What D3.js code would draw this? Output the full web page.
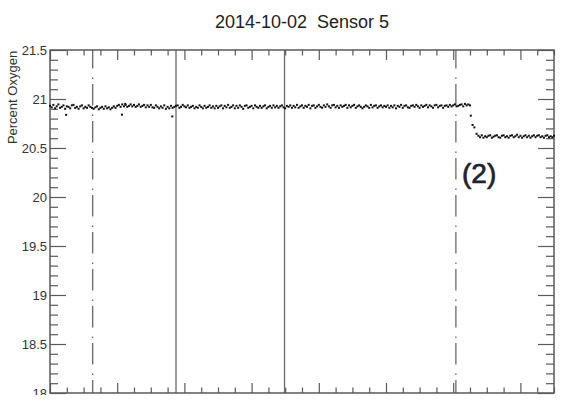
<!DOCTYPE html>
<html>
<head>
<meta charset="utf-8">
<script src="https://cdn.jsdelivr.net/npm/d3@7"></script>
<style>
  body { margin: 0; background: #fff; }
  text { font-family: "Liberation Sans", Arial, sans-serif; }
</style>
</head>
<body>
<div id="chart"></div>
<script>
// ==== data (time in hours of the day, percent oxygen) ====

const chartTitle = "2014-10-02  Sensor 5";
const yLabel = "Percent Oxygen";

const yMajorTicks = [18, 18.5, 19, 19.5, 20, 20.5, 21, 21.5];
const xMajorTicks = [10, 11, 12, 13, 14, 15, 16, 17];

// sensor readings before the change, one every 0.025 h starting at 10.0
const highStart = 10.0;
const sampleStep = 0.025;
const highValues = [
  20.93, 20.915, 20.94, 20.905, 20.925, 20.945, 20.91, 20.92, 20.935, 20.9, 20.925, 20.92, 20.905, 20.935, 20.94, 20.91, 20.92, 20.9, 20.925, 20.935, 20.905, 20.92, 20.91, 20.935, 20.92,
  20.91, 20.9, 20.915, 20.925, 20.895, 20.91, 20.92, 20.9, 20.925, 20.905, 20.915, 20.895, 20.91, 20.925, 20.91, 20.93, 20.94, 20.92, 20.945, 20.925, 20.94, 20.92, 20.93, 20.945, 20.925,
  20.94, 20.92, 20.93, 20.945, 20.92, 20.93, 20.94, 20.915, 20.935, 20.92, 20.94, 20.915, 20.91, 20.935, 20.92, 20.905, 20.925, 20.91, 20.935, 20.9, 20.92, 20.905, 20.93, 20.91, 20.92,
  20.93, 20.935, 20.91, 20.92, 20.94, 20.925, 20.915, 20.935, 20.91, 20.92, 20.93, 20.905, 20.92, 20.91, 20.935, 20.92, 20.905, 20.93, 20.91, 20.92, 20.935, 20.91, 20.925, 20.905, 20.93,
  20.91, 20.925, 20.935, 20.905, 20.93, 20.915, 20.94, 20.91, 20.92, 20.935, 20.905, 20.93, 20.91, 20.935, 20.92, 20.9, 20.93, 20.935, 20.91, 20.92, 20.93, 20.905, 20.935, 20.92, 20.91,
  20.93, 20.91, 20.925, 20.935, 20.905, 20.92, 20.93, 20.91, 20.935, 20.915, 20.93, 20.91, 20.925, 20.935, 20.915, 20.905, 20.93, 20.92, 20.935, 20.91, 20.93, 20.915, 20.94, 20.91, 20.925,
  20.935, 20.91, 20.93, 20.92, 20.94, 20.905, 20.93, 20.935, 20.91, 20.925, 20.94, 20.92, 20.91, 20.935, 20.92, 20.945, 20.925, 20.91, 20.935, 20.94, 20.915, 20.93, 20.91, 20.935, 20.92,
  20.93, 20.94, 20.91, 20.935, 20.915, 20.93, 20.94, 20.91, 20.925, 20.935, 20.92, 20.905, 20.92, 20.935, 20.925, 20.91, 20.94, 20.915, 20.93, 20.935, 20.91, 20.925, 20.935, 20.915, 20.93,
  20.92, 20.935, 20.91, 20.93, 20.915, 20.935, 20.905, 20.93, 20.92, 20.94, 20.91, 20.93, 20.935, 20.915, 20.91, 20.93, 20.935, 20.92, 20.94, 20.925, 20.91, 20.935, 20.92, 20.93, 20.94,
  20.915, 20.935, 20.925, 20.91, 20.935, 20.94, 20.915, 20.93, 20.935, 20.91, 20.93, 20.935, 20.92, 20.94, 20.925, 20.935, 20.945, 20.925, 20.93, 20.94, 20.945, 20.925, 20.95, 20.935, 20.945,
  20.935
];

// the drop
const dropTimes  = [16.262, 16.288, 16.315, 16.348];
const dropValues = [20.83, 20.735, 20.71, 20.645];

// readings after the change
const lowStart = 16.375;
const lowValues = [
  20.625, 20.61, 20.63, 20.605, 20.62, 20.61, 20.625, 20.63, 20.605, 20.615, 20.625, 20.63, 20.61, 20.605, 20.625, 20.63,
  20.61, 20.62, 20.605, 20.625, 20.63, 20.61, 20.62, 20.635, 20.61, 20.625, 20.605, 20.62, 20.63, 20.61, 20.625, 20.605,
  20.62, 20.63, 20.61, 20.625, 20.63, 20.61, 20.62, 20.605, 20.625, 20.63, 20.61, 20.62, 20.61, 20.625
];

// stray low readings
const outlierTimes  = [10.24, 11.07, 11.82, 11.12];
const outlierValues = [20.838, 20.84, 20.822, 20.95];

// event markers
const solidLineTimes   = [11.875, 13.49];
const dashDotLineTimes = [10.635, 16.04];

const annotation = "(2)";

// ==== layout ====

const W = 575, H = 395;
const plot = { left: 50, right: 554, top: 50, bottom: 393 };

const svg = d3.select("#chart")
  .append("svg")
    .attr("width", W)
    .attr("height", H);

const x = d3.scaleLinear().domain([10, 17.5]).range([plot.left, plot.right]);
const y = d3.scaleLinear().domain([18, 21.5]).range([plot.bottom, plot.top]);

const axisColor = "#5a5a5a";

const xMinor = d3.range(10, 17.5001, 0.25).filter(t => !xMajorTicks.includes(t));
const yMinor = d3.range(18, 21.5001, 0.1).map(v => +v.toFixed(1)).filter(v => !yMajorTicks.includes(v));

function tickGroup(axis, tx, ty) {
  const g = svg.append("g").attr("transform", `translate(${tx},${ty})`).call(axis);
  g.select(".domain").remove();
  g.selectAll("line").attr("stroke", axisColor).attr("stroke-width", 1.2);
  g.selectAll("text").remove();
  return g;
}

// x ticks, top and bottom, pointing inward
tickGroup(d3.axisBottom(x).tickValues(xMajorTicks).tickSize(10), 0, plot.top);
tickGroup(d3.axisBottom(x).tickValues(xMinor).tickSize(5.5), 0, plot.top);
tickGroup(d3.axisTop(x).tickValues(xMajorTicks).tickSize(10), 0, plot.bottom);
tickGroup(d3.axisTop(x).tickValues(xMinor).tickSize(5.5), 0, plot.bottom);

// y ticks, left and right, pointing inward
tickGroup(d3.axisRight(y).tickValues(yMajorTicks).tickSize(16), plot.left, 0);
tickGroup(d3.axisRight(y).tickValues(yMinor).tickSize(8), plot.left, 0);
tickGroup(d3.axisLeft(y).tickValues(yMajorTicks).tickSize(16), plot.right, 0);
tickGroup(d3.axisLeft(y).tickValues(yMinor).tickSize(8), plot.right, 0);

// y tick labels
const yLab = svg.append("g")
  .attr("transform", `translate(${plot.left},0)`)
  .call(d3.axisLeft(y).tickValues(yMajorTicks).tickSize(0).tickPadding(3).tickFormat(d3.format("")));
yLab.select(".domain").remove();
yLab.selectAll("text")
  .attr("font-size", 13)
  .attr("font-family", "Liberation Sans, Arial, sans-serif")
  .attr("fill", "#333");

// event lines
svg.append("g").selectAll("line")
  .data(solidLineTimes)
  .join("line")
    .attr("x1", d => x(d)).attr("x2", d => x(d))
    .attr("y1", plot.top).attr("y2", plot.bottom)
    .attr("stroke", "#6a6a6a")
    .attr("stroke-width", 1.3);

svg.append("g").selectAll("line")
  .data(dashDotLineTimes)
  .join("line")
    .attr("x1", d => x(d)).attr("x2", d => x(d))
    .attr("y1", plot.top).attr("y2", plot.bottom)
    .attr("stroke", "#6a6a6a")
    .attr("stroke-width", 1.3)
    .attr("stroke-dasharray", "21.5,9,1.5,5")
    .attr("stroke-dashoffset", 3);

// frame
svg.append("rect")
  .attr("x", plot.left).attr("y", plot.top)
  .attr("width", plot.right - plot.left)
  .attr("height", plot.bottom - plot.top)
  .attr("fill", "none")
  .attr("stroke", axisColor)
  .attr("stroke-width", 1.5);

// ==== points ====

const points = []
  .concat(highValues.map((v, i) => ({ t: highStart + i * sampleStep, v })))
  .concat(dropValues.map((v, i) => ({ t: dropTimes[i], v })))
  .concat(lowValues.map((v, i) => ({ t: lowStart + i * sampleStep, v })))
  .concat(outlierValues.map((v, i) => ({ t: outlierTimes[i], v })));

const ps = 2;
svg.append("g").selectAll("rect")
  .data(points)
  .join("rect")
    .attr("x", d => x(d.t) - ps / 2)
    .attr("y", d => y(d.v) - ps / 2)
    .attr("width", ps)
    .attr("height", ps)
    .attr("fill", "#111");

// ==== text ====

svg.append("text")
  .attr("x", (plot.left + plot.right) / 2)
  .attr("y", 28)
  .attr("text-anchor", "middle")
  .attr("font-size", 18)
  .attr("fill", "#222")
  .style("white-space", "pre")
  .text(chartTitle);

svg.append("text")
  .attr("transform", "translate(16.5,97.5) rotate(-90)")
  .attr("text-anchor", "middle")
  .attr("font-size", 13)
  .attr("fill", "#333")
  .text(yLabel);

svg.append("text")
  .attr("x", 462)
  .attr("y", 183)
  .attr("font-family", "Open Sans, sans-serif")
  .attr("font-size", 28)
  .attr("fill", "#1e2232")
  .attr("stroke", "#1e2232")
  .attr("stroke-width", 0.7)
  .text(annotation);
</script>
</body>
</html>
